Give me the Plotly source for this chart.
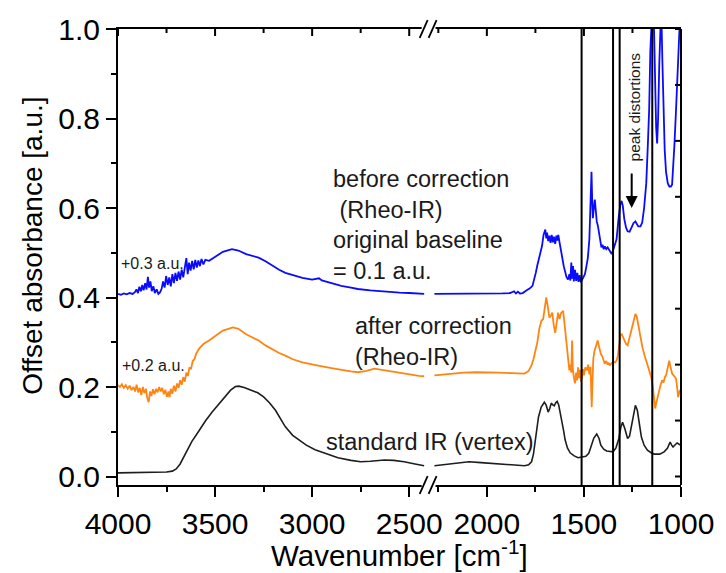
import plotly.graph_objects as go

# ---------------------------------------------------------------------------
# Spectra (wavenumber in cm^-1, offset absorbance in a.u.)
# ---------------------------------------------------------------------------
# standard IR (vertex)
vertex_wn = [4000, 3900, 3800, 3750, 3720, 3700, 3680, 3650, 3620, 3580, 3550, 3515,
             3480, 3444, 3420, 3395, 3378, 3350, 3311, 3280, 3250, 3220, 3189, 3160,
             3138, 3100, 3071, 3030, 2985, 2930, 2867, 2800, 2750, 2700, 2660, 2628,
             2580, 2526, 2470, 2423,
             2270, 2200, 2150, 2092, 2030, 1938, 1860, 1806, 1785, 1770, 1760, 1750,
             1740, 1734, 1720, 1704, 1695, 1684, 1676, 1668, 1660, 1653, 1645, 1638,
             1630, 1617, 1605, 1597, 1585, 1571, 1550, 1530, 1510, 1490, 1475, 1460,
             1449, 1434, 1422, 1413, 1398, 1383, 1365, 1350, 1335, 1320, 1310, 1301,
             1290, 1282, 1275, 1265, 1255, 1245, 1235, 1225, 1215, 1204, 1190, 1173,
             1150, 1138, 1110, 1087, 1070, 1056, 1048, 1041, 1030, 1020, 1010, 1000]
vertex_abs = [0.008, 0.009, 0.010, 0.010, 0.012, 0.017, 0.028, 0.053, 0.078, 0.104, 0.124, 0.144,
              0.163, 0.181, 0.193, 0.201, 0.202, 0.199, 0.193, 0.187, 0.178, 0.165, 0.148, 0.128,
              0.111, 0.092, 0.082, 0.070, 0.060, 0.051, 0.042, 0.036, 0.033, 0.034, 0.036, 0.037,
              0.036, 0.033, 0.028, 0.024,
              0.024, 0.028, 0.031, 0.033, 0.031, 0.028, 0.025, 0.024, 0.026, 0.033, 0.050, 0.082,
              0.112, 0.133, 0.155, 0.166, 0.160, 0.144, 0.152, 0.164, 0.160, 0.158, 0.165, 0.168,
              0.160, 0.133, 0.103, 0.082, 0.064, 0.053, 0.046, 0.042, 0.044, 0.045, 0.052, 0.070,
              0.086, 0.095, 0.085, 0.070, 0.061, 0.057, 0.055, 0.055, 0.064, 0.085, 0.110, 0.121,
              0.108, 0.092, 0.085, 0.090, 0.112, 0.140, 0.159, 0.148, 0.118, 0.088, 0.070, 0.059,
              0.052, 0.050, 0.050, 0.055, 0.063, 0.077, 0.070, 0.066, 0.071, 0.075, 0.072, 0.070]

# after correction (Rheo-IR), +0.2 a.u.
corr_wn = [4000, 3990, 3980, 3970, 3960, 3950, 3940, 3930, 3920, 3912, 3904, 3896,
           3888, 3880, 3872, 3864, 3856, 3849, 3842, 3835, 3828, 3820, 3812, 3804,
           3796, 3788, 3780, 3772, 3764, 3756, 3748, 3740, 3735, 3728, 3720, 3712,
           3704, 3696, 3688, 3680, 3672, 3664, 3656, 3648, 3640, 3632, 3624, 3615,
           3606, 3597, 3580, 3560, 3531, 3500, 3460, 3408, 3380, 3340, 3300, 3276,
           3240, 3200, 3170, 3138, 3100, 3050, 3000, 2969, 2900, 2850, 2800, 2765,
           2720, 2679, 2640, 2600, 2550, 2500, 2450, 2423,
           2270, 2200, 2120, 2055, 2000, 1938, 1870, 1806, 1785, 1770, 1760, 1750,
           1740, 1730, 1719, 1710, 1703, 1694, 1688, 1684, 1678, 1670, 1663, 1656,
           1648, 1640, 1633, 1626, 1618, 1607, 1600, 1594, 1587, 1580, 1575, 1570,
           1565, 1561, 1557, 1552, 1546, 1540, 1535, 1530, 1525, 1520, 1515, 1510,
           1505, 1500, 1493, 1485, 1478, 1472, 1466, 1460, 1456, 1452, 1446, 1440,
           1434, 1429, 1422, 1413, 1405, 1398, 1393, 1385, 1378, 1372, 1367, 1360,
           1350, 1340, 1332, 1325, 1318, 1312, 1306, 1298, 1291, 1283, 1275, 1265,
           1255, 1245, 1235, 1228, 1224, 1212, 1199, 1186, 1173, 1163, 1153, 1145,
           1138, 1133, 1127, 1120, 1113, 1105, 1097, 1090, 1083, 1077, 1070, 1061,
           1054, 1046, 1038, 1030, 1026, 1020, 1015, 1008, 1003, 1000]
corr_abs = [0.204, 0.200, 0.206, 0.198, 0.204, 0.196, 0.203, 0.193, 0.200, 0.190, 0.205, 0.188,
            0.198, 0.182, 0.200, 0.186, 0.196, 0.175, 0.166, 0.190, 0.180, 0.195, 0.184, 0.196,
            0.188, 0.200, 0.190, 0.198, 0.184, 0.194, 0.178, 0.190, 0.177, 0.196, 0.185, 0.203,
            0.190, 0.208, 0.198, 0.215, 0.205, 0.222, 0.212, 0.232, 0.225, 0.244, 0.240, 0.258,
            0.262, 0.275, 0.287, 0.296, 0.304, 0.314, 0.326, 0.333, 0.330, 0.318, 0.310, 0.304,
            0.293, 0.283, 0.276, 0.270, 0.262, 0.255, 0.250, 0.248, 0.242, 0.238, 0.235, 0.233,
            0.236, 0.241, 0.238, 0.236, 0.232, 0.228, 0.225, 0.224,
            0.226, 0.229, 0.232, 0.233, 0.233, 0.232, 0.231, 0.230, 0.236, 0.248, 0.262, 0.282,
            0.300, 0.330, 0.348, 0.352, 0.372, 0.400, 0.385, 0.370, 0.355, 0.360, 0.366, 0.340,
            0.321, 0.345, 0.366, 0.352, 0.365, 0.370, 0.340, 0.318, 0.289, 0.262, 0.237, 0.250,
            0.232, 0.304, 0.240, 0.222, 0.208, 0.232, 0.215, 0.244, 0.220, 0.238, 0.212, 0.222,
            0.240, 0.226, 0.244, 0.237, 0.250, 0.228, 0.245, 0.155, 0.220, 0.262, 0.280, 0.290,
            0.298, 0.304, 0.290, 0.274, 0.268, 0.255, 0.252, 0.258, 0.250, 0.254, 0.248, 0.252,
            0.256, 0.255, 0.259, 0.270, 0.295, 0.315, 0.319, 0.310, 0.304, 0.296, 0.293, 0.310,
            0.333, 0.350, 0.363, 0.358, 0.348, 0.318, 0.289, 0.268, 0.248, 0.235, 0.222, 0.200,
            0.170, 0.152, 0.165, 0.180, 0.193, 0.205, 0.215, 0.210, 0.222, 0.226, 0.240, 0.259,
            0.245, 0.230, 0.226, 0.221, 0.219, 0.200, 0.177, 0.190, 0.193, 0.180]

# before correction (Rheo-IR), +0.3 a.u., original baseline 0.1 a.u.
raw_wn = [4000, 3985, 3970, 3955, 3940, 3925, 3913, 3905, 3897, 3890, 3882, 3875,
          3868, 3860, 3853, 3846, 3840, 3833, 3826, 3818, 3810, 3801, 3792, 3783,
          3775, 3768, 3760, 3752, 3744, 3736, 3728, 3720, 3712, 3704, 3696, 3688,
          3680, 3672, 3664, 3656, 3648, 3641, 3634, 3626, 3618, 3610, 3602, 3594,
          3586, 3578, 3570, 3560, 3550, 3531, 3500, 3460, 3413, 3380, 3340, 3300,
          3276, 3240, 3200, 3170, 3138, 3100, 3050, 3000, 2975, 2965, 2950, 2900,
          2850, 2800, 2765, 2700, 2650, 2600, 2550, 2500, 2450, 2423,
          2270, 2200, 2100, 2000, 1920, 1880, 1860, 1850, 1840, 1830, 1815, 1795,
          1780, 1765, 1755, 1748, 1740, 1732, 1724, 1716, 1708, 1702, 1699, 1694,
          1690, 1684, 1678, 1672, 1666, 1660, 1655, 1648, 1642, 1637, 1632, 1626,
          1620, 1612, 1604, 1597, 1590, 1582, 1575, 1570, 1565, 1561, 1556, 1552,
          1546, 1540, 1534, 1528, 1522, 1516, 1510, 1503, 1495, 1488, 1480, 1472,
          1466, 1461, 1457, 1454, 1449, 1444, 1439, 1434, 1428, 1424, 1418, 1410,
          1404, 1398, 1392, 1385, 1378, 1370, 1363, 1357, 1350, 1342, 1332, 1322,
          1312, 1306, 1300, 1292, 1283, 1275, 1265, 1255, 1245, 1235, 1228, 1220,
          1209, 1200, 1190, 1179, 1170, 1164, 1158, 1152, 1145, 1140, 1134, 1128,
          1123, 1118, 1112, 1107, 1102, 1096, 1090, 1084, 1077, 1068, 1060, 1052,
          1046, 1040, 1034, 1026, 1018, 1012, 1007, 1000]
raw_abs = [0.408, 0.406, 0.409, 0.407, 0.410, 0.408, 0.412, 0.418, 0.410, 0.424, 0.414, 0.428,
           0.416, 0.432, 0.418, 0.446, 0.422, 0.436, 0.414, 0.425, 0.410, 0.418, 0.408, 0.412,
           0.420, 0.436, 0.422, 0.448, 0.428, 0.445, 0.425, 0.452, 0.432, 0.455, 0.437, 0.458,
           0.440, 0.462, 0.445, 0.470, 0.488, 0.452, 0.478, 0.460, 0.482, 0.463, 0.484, 0.467,
           0.483, 0.470, 0.486, 0.474, 0.484, 0.482, 0.491, 0.502, 0.508, 0.505, 0.497, 0.492,
           0.489, 0.481, 0.469, 0.462, 0.455, 0.450, 0.444, 0.440, 0.441, 0.443, 0.438, 0.432,
           0.426, 0.422, 0.419, 0.416, 0.414, 0.413, 0.411, 0.410, 0.408, 0.408,
           0.408, 0.408, 0.409, 0.408, 0.409, 0.410, 0.414, 0.409, 0.413, 0.409, 0.410, 0.416,
           0.420, 0.426, 0.440, 0.455, 0.472, 0.488, 0.497, 0.515, 0.540, 0.548, 0.552, 0.532,
           0.545, 0.526, 0.538, 0.522, 0.540, 0.523, 0.536, 0.520, 0.538, 0.527, 0.540, 0.524,
           0.512, 0.490, 0.470, 0.459, 0.446, 0.440, 0.452, 0.438, 0.478, 0.442, 0.470, 0.436,
           0.462, 0.437, 0.455, 0.435, 0.450, 0.434, 0.440, 0.448, 0.452, 0.468, 0.488, 0.530,
           0.600, 0.681, 0.610, 0.577, 0.600, 0.619, 0.595, 0.570, 0.560, 0.548, 0.526, 0.512,
           0.518, 0.508, 0.514, 0.508, 0.512, 0.506, 0.503, 0.497, 0.505, 0.515, 0.530, 0.575,
           0.610, 0.616, 0.605, 0.575, 0.556, 0.548, 0.547, 0.556, 0.566, 0.570, 0.566, 0.559,
           0.559, 0.567, 0.600, 0.655, 0.750, 0.820, 0.950, 1.050, 1.080, 1.020, 0.880, 0.780,
           0.744, 0.800, 0.920, 1.020, 1.050, 0.930, 0.810, 0.730, 0.680, 0.655, 0.648, 0.648,
           0.652, 0.690, 0.740, 0.815, 0.900, 0.970, 1.020, 1.080]

# marker lines
marker_wn = [1512, 1350, 1316, 1148]

# axis ticks
left_ticks = [4000, 3500, 3000, 2500]
left_minor = [3750, 3250, 2750]
right_ticks = [2000, 1500, 1000]
right_minor = [2250, 1750, 1250]
y_ticks = [0.0, 0.2, 0.4, 0.6, 0.8, 1.0]
y_minor = [0.1, 0.3, 0.5, 0.7, 0.9]
y_right_ticks = [0.0, 0.125, 0.25, 0.375, 0.5, 0.625, 0.75, 0.875, 1.0]

# broken x axis: 4000-2400 | 2300-1000
LEFT_RANGE = [4000, 2400]
RIGHT_RANGE = [2300, 1000]
Y_RANGE = [-0.019, 1.0]
split = (LEFT_RANGE[0] - LEFT_RANGE[1]) / ((LEFT_RANGE[0] - LEFT_RANGE[1]) + (RIGHT_RANGE[0] - RIGHT_RANGE[1]))

FONT = "Liberation Sans, Arial, sans-serif"
TICK_FONT = dict(family=FONT, size=30, color="black")

M_L, M_R, M_T, M_B = 118, 40, 27, 88
W, H = 726, 573
PLOT_W = W - M_L - M_R
PLOT_H = H - M_T - M_B


def px(xp):
    return (xp - M_L) / PLOT_W


def py(yp):
    return (H - M_B - yp) / PLOT_H


def segments(wn, ab):
    left = [(w, a) for w, a in zip(wn, ab) if w >= 2350]
    right = [(w, a) for w, a in zip(wn, ab) if w < 2350]
    return left, right


fig = go.Figure()

series = [
    (raw_wn, raw_abs, "#0a0aff", 1.8),
    (corr_wn, corr_abs, "#ff8512", 1.8),
    (vertex_wn, vertex_abs, "#1e1e1e", 1.6),
]
for wn, ab, color, width in series:
    left, right = segments(wn, ab)
    fig.add_trace(go.Scatter(x=[p[0] for p in left], y=[p[1] for p in left],
                             xaxis="x", yaxis="y", mode="lines",
                             line=dict(color=color, width=width), showlegend=False))
    fig.add_trace(go.Scatter(x=[p[0] for p in right], y=[p[1] for p in right],
                             xaxis="x2", yaxis="y", mode="lines",
                             line=dict(color=color, width=width), showlegend=False))

axis_common = dict(showline=True, linecolor="black", linewidth=2, showgrid=False,
                   zeroline=False, tickcolor="black", tickwidth=2, tickfont=TICK_FONT)
minor_x = dict(ticks="outside", ticklen=5, tickwidth=2, tickcolor="black")

fig.update_layout(
    width=W, height=H,
    margin=dict(l=M_L, r=M_R, t=M_T, b=M_B),
    paper_bgcolor="white", plot_bgcolor="white",
    xaxis=dict(domain=[0, split], range=LEFT_RANGE, anchor="y", side="bottom", mirror=True,
               tickvals=left_ticks, ticks="outside", ticklen=10,
               minor=dict(tickvals=left_minor, **minor_x),
               ticklabelstandoff=1, **axis_common),
    xaxis2=dict(domain=[split, 1], range=RIGHT_RANGE, anchor="y", side="bottom", mirror=True,
                tickvals=right_ticks, ticks="outside", ticklen=10,
                minor=dict(tickvals=right_minor, **minor_x),
                ticklabelstandoff=1, **axis_common),
    yaxis=dict(domain=[0, 1], range=Y_RANGE, anchor="x", side="left",
               tickvals=y_ticks, tickformat=".1f", ticks="outside", ticklen=10,
               minor=dict(tickvals=y_minor, **minor_x),
               **axis_common),
)

# right frame edge with inward ticks
fig.add_shape(type="line", xref="paper", yref="paper", x0=1, x1=1, y0=0, y1=1,
              line=dict(color="black", width=2), layer="above")
for v in y_right_ticks:
    fig.add_shape(type="line", xref="paper", yref="y", xsizemode="pixel", xanchor=1,
                  x0=0, x1=-6, y0=v, y1=v, line=dict(color="black", width=2), layer="above")

# inward ticks along the top frame edge
for ref, major, minor in (("x", left_ticks, left_minor), ("x2", right_ticks, right_minor)):
    for vals, length in ((major, 7), (minor, 4)):
        for v in vals:
            fig.add_shape(type="line", xref=ref, yref="paper", ysizemode="pixel", yanchor=1,
                          x0=v, x1=v, y0=0, y1=-length,
                          line=dict(color="black", width=2), layer="above")

# marker lines through the fingerprint region
for w in marker_wn:
    fig.add_shape(type="line", xref="x2", yref="paper", x0=w, x1=w, y0=0, y1=1,
                  line=dict(color="black", width=2), layer="above")

# axis-break symbols (//) on the bottom and top frame edges
break_x = M_L + split * PLOT_W
for base in (H - M_B, M_T):
    fig.add_shape(type="rect", xref="paper", yref="paper",
                  x0=px(break_x - 7), x1=px(break_x + 7), y0=py(base + 3), y1=py(base - 3),
                  fillcolor="white", line=dict(width=0), layer="above")
    for x_start in (break_x - 9, break_x):
        fig.add_shape(type="line", xref="paper", yref="paper",
                      x0=px(x_start), y0=py(base + 9), x1=px(x_start + 8), y1=py(base - 9),
                      line=dict(color="black", width=1.8), layer="above")

ann_font = dict(family=FONT, size=23.5, color="#1a1a1a")
small_font = dict(family=FONT, size=16, color="#1a1a1a")

fig.add_annotation(x=2903, y=0.563, xref="x", yref="y", xanchor="left", yanchor="middle",
                   align="left", showarrow=False, font=ann_font,
                   text="before correction<br>\u00a0(Rheo-IR)<br>original baseline<br>= 0.1 a.u.")
fig.add_annotation(x=2791, y=0.301, xref="x", yref="y", xanchor="left", yanchor="middle",
                   align="left", showarrow=False, font=ann_font,
                   text="after correction<br>(Rheo-IR)")
fig.add_annotation(x=2939, y=0.077, xref="x", yref="y", xanchor="left", yanchor="middle",
                   align="left", showarrow=False, font=ann_font,
                   text="standard IR (vertex)")
fig.add_annotation(x=3995, y=0.477, xref="x", yref="y", xanchor="left", yanchor="middle",
                   showarrow=False, font=small_font, text="+0.3 a.u.")
fig.add_annotation(x=3990, y=0.248, xref="x", yref="y", xanchor="left", yanchor="middle",
                   showarrow=False, font=small_font, text="+0.2 a.u.")
fig.add_annotation(x=1239, y=0.826, xref="x2", yref="y", xanchor="center", yanchor="middle",
                   textangle=-90, showarrow=False, font=dict(family=FONT, size=15.5, color="#1a1a1a"),
                   text="peak distortions")
fig.add_annotation(x=1254, y=0.600, xref="x2", yref="y", ax=0, ay=-36, text="",
                   showarrow=True, arrowhead=2, arrowsize=1.2, arrowwidth=2, arrowcolor="black")

# axis titles
fig.add_annotation(x=0.5, y=py(554), xref="paper", yref="paper", xanchor="center",
                   yanchor="middle", showarrow=False,
                   font=dict(family=FONT, size=29.5, color="black"),
                   text="Wavenumber [cm<sup>-1</sup>]")
fig.add_annotation(x=px(31), y=py(245), xref="paper", yref="paper", xanchor="center",
                   yanchor="middle", showarrow=False, textangle=-90,
                   font=dict(family=FONT, size=28, color="black"),
                   text="Offset absorbance [a.u.]")

fig.write_html("out.html")
